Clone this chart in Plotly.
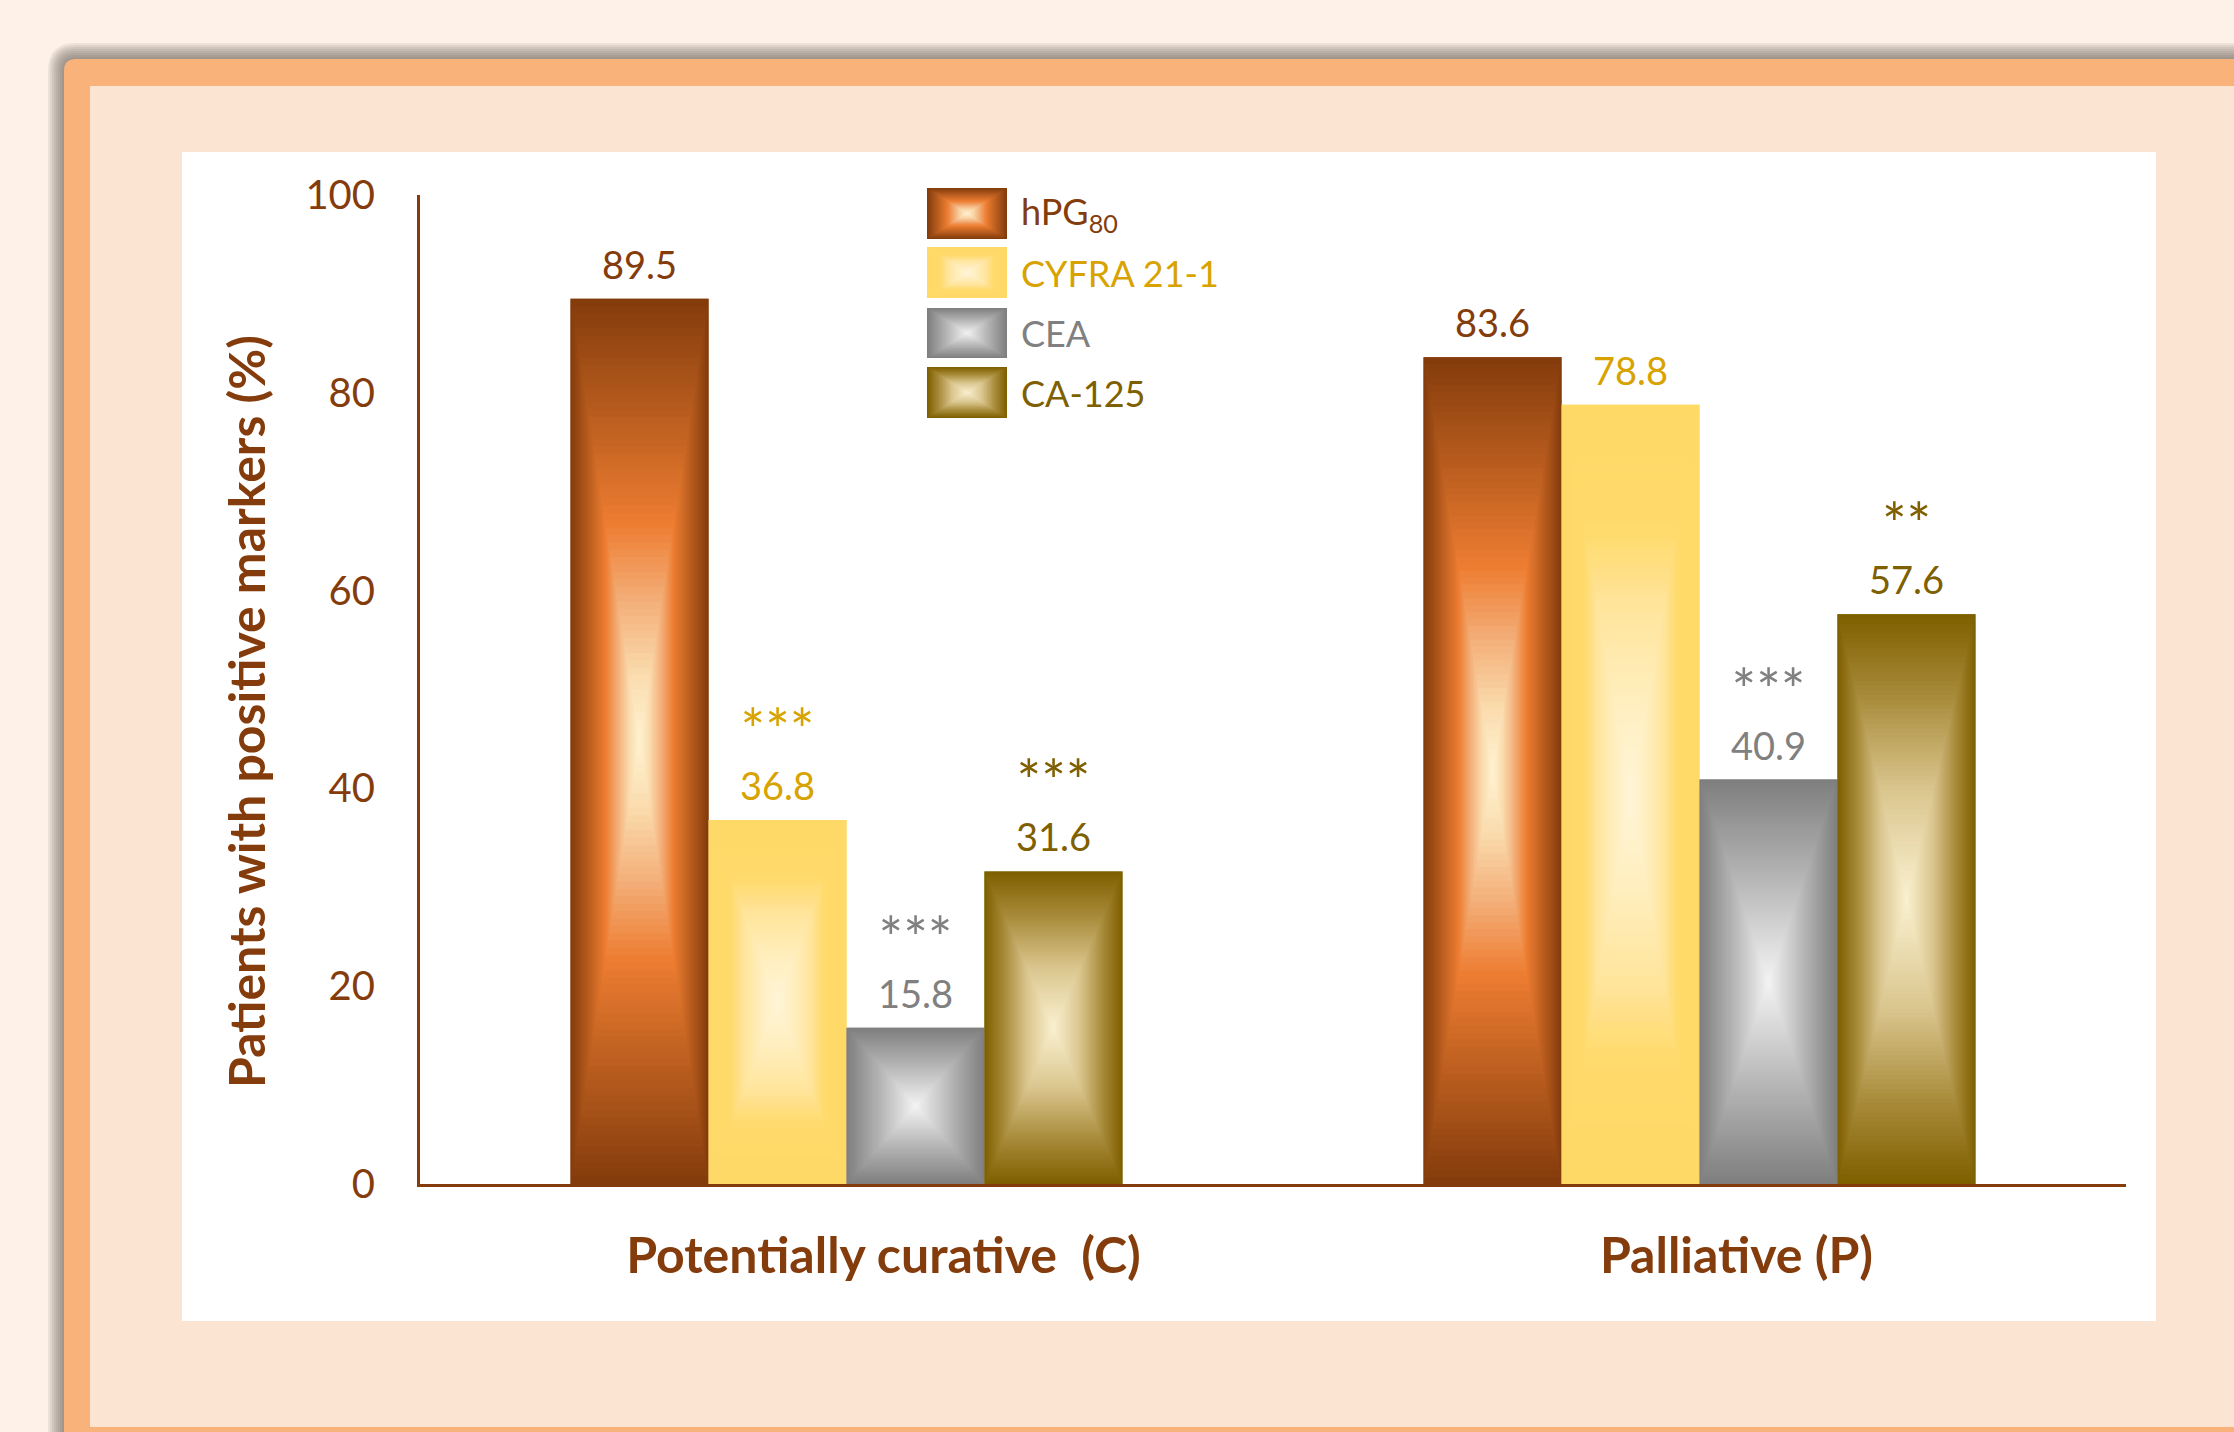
import plotly.graph_objects as go

# ---- data ----
groups = ["Potentially curative\u00a0 (C)", "Palliative (P)"]
marker_names = ["hPG<sub>80</sub>", "CYFRA 21-1", "CEA", "CA-125"]
hpg80 = [89.5, 83.6]
cyfra21 = [36.8, 78.8]
cea = [15.8, 40.9]
ca125 = [31.6, 57.6]
hpg80_sig = ["", ""]
cyfra21_sig = ["***", ""]
cea_sig = ["***", "***"]
ca125_sig = ["***", "**"]
y_ticks = [0, 20, 40, 60, 80, 100]

series_values = [hpg80, cyfra21, cea, ca125]
series_sig = [hpg80_sig, cyfra21_sig, cea_sig, ca125_sig]

# ---- styling ----
FONT = "Lato"
BROWN = "#843C0C"
text_colors = ["#843C0C", "#D8A300", "#808080", "#7F6000"]
# rectangular "from centre" gradients: (position from centre 0 -> edge 1, colour)
gradients = [
    [(0.0, "#FFF3D2"), (0.15, "#FBDDB0"), (0.32, "#F3B07A"), (0.5, "#ED7D31"), (1.0, "#843C0C")],
    [(0.0, "#FFF5D8"), (0.25, "#FFEEBE"), (0.5, "#FFE49A"), (0.68, "#FFDA6C"), (1.0, "#FFD966")],
    [(0.0, "#F4F4F4"), (0.5, "#B8B8B8"), (1.0, "#7F7F7F")],
    [(0.0, "#FBF2D2"), (0.4, "#D9C48C"), (0.72, "#A88B3A"), (1.0, "#7F6000")],
]

FIG_W, FIG_H = 2234, 1432
M_L, M_R, M_T, M_B = 420, 108, 195, 248
PLOT_W = FIG_W - M_L - M_R
PLOT_H = FIG_H - M_T - M_B
BARGAP = 0.353
N_LEVELS = 60


def hex_to_rgb(h):
    h = h.lstrip("#")
    return tuple(int(h[i:i + 2], 16) for i in (0, 2, 4))


def grad_color(stops, s):
    for (p0, c0), (p1, c1) in zip(stops[:-1], stops[1:]):
        if p0 <= s <= p1:
            f = 0 if p1 == p0 else (s - p0) / (p1 - p0)
            a, b = hex_to_rgb(c0), hex_to_rgb(c1)
            return "rgb(%d,%d,%d)" % tuple(round(a[i] + (b[i] - a[i]) * f) for i in range(3))
    return stops[-1][1]


def px_x(x):
    return (x - M_L) / PLOT_W


def px_y(y):
    return (M_T + PLOT_H - y) / PLOT_H


def rounded_path(x0, y0, x1, y1, r):
    # rounded top-left corner only (other corners run off the page)
    pts = [
        ("M", px_x(x0 + r), px_y(y0)),
        ("L", px_x(x1), px_y(y0)),
        ("L", px_x(x1), px_y(y1)),
        ("L", px_x(x0), px_y(y1)),
        ("L", px_x(x0), px_y(y0 + r)),
    ]
    d = " ".join("%s%.6f,%.6f" % p for p in pts)
    d += " Q%.6f,%.6f %.6f,%.6f Z" % (px_x(x0), px_y(y0), px_x(x0 + r), px_y(y0))
    return d


fig = go.Figure()
shapes = []
annotations = []

# ---- page frame ----
for k in range(8, 0, -1):
    shapes.append(dict(type="path", xref="paper", yref="paper", layer="below",
                       path=rounded_path(64 - 2 * k, 59 - 2 * k, 2400, 1600, 12 + 2 * k),
                       fillcolor="rgba(95,85,80,0.10)", line=dict(width=0)))
shapes.append(dict(type="path", xref="paper", yref="paper", layer="below",
                   path=rounded_path(64, 59, 2400, 1600, 12),
                   fillcolor="#F9B37A", line=dict(width=0)))
shapes.append(dict(type="rect", xref="paper", yref="paper", layer="below",
                   x0=px_x(90), x1=px_x(2400), y0=px_y(1427), y1=px_y(86),
                   fillcolor="#FBE4D2", line=dict(width=0)))
shapes.append(dict(type="rect", xref="paper", yref="paper", layer="below",
                   x0=px_x(182), x1=px_x(2156), y0=px_y(1321), y1=px_y(152),
                   fillcolor="white", line=dict(width=0)))

# ---- bars ----
n_series = len(series_values)
bar_w = (1 - BARGAP) / n_series
xs = list(range(len(groups)))

for si, vals in enumerate(series_values):
    fig.add_trace(go.Bar(
        x=xs, y=vals, name=marker_names[si],
        marker=dict(color=gradients[si][-1][1], line=dict(width=0)),
        showlegend=False,
        hovertemplate=marker_names[si] + ": %{y}%<extra></extra>",
    ))
    for gi, v in enumerate(vals):
        xc = gi + (si - (n_series - 1) / 2) * bar_w
        # nested rectangles give the rectangular centre-out shading
        for k in range(N_LEVELS):
            t = 1 - k / N_LEVELS
            shapes.append(dict(
                type="rect", xref="x", yref="y", layer="above",
                x0=xc - t * bar_w / 2, x1=xc + t * bar_w / 2,
                y0=v / 2 - t * v / 2, y1=v / 2 + t * v / 2,
                fillcolor=grad_color(gradients[si], t), line=dict(width=0),
            ))
        # value label, with the significance stars on a line above it
        label = "%.1f" % v
        if series_sig[si][gi]:
            label = '<span style="font-size:58px">%s</span><br>%s' % (series_sig[si][gi], label)
        annotations.append(dict(
            x=xc, y=v, xref="x", yref="y", text=label, showarrow=False,
            yanchor="bottom", yshift=11, borderpad=0,
            font=dict(family=FONT, size=38, color=text_colors[si]),
        ))

# ---- legend ----
leg_x0, leg_x1 = 927, 1007
leg_rows = [(188, 239), (247, 298), (308, 358), (367, 418)]
for si, (ya, yb) in enumerate(leg_rows):
    cx, cy = (leg_x0 + leg_x1) / 2, (ya + yb) / 2
    hw, hh = (leg_x1 - leg_x0) / 2, (yb - ya) / 2
    for k in range(30):
        t = 1 - k / 30
        shapes.append(dict(
            type="rect", xref="paper", yref="paper", layer="above",
            x0=px_x(cx - t * hw), x1=px_x(cx + t * hw),
            y0=px_y(cy + t * hh), y1=px_y(cy - t * hh),
            fillcolor=grad_color(gradients[si], t), line=dict(width=0),
        ))
    annotations.append(dict(
        x=px_x(1019), y=px_y(cy), xref="paper", yref="paper",
        text=marker_names[si], showarrow=False, xanchor="left", yanchor="middle",
        font=dict(family=FONT, size=36, color=text_colors[si]),
    ))

# ---- y axis title ----
annotations.append(dict(
    x=px_x(246), y=px_y(712), xref="paper", yref="paper",
    text="<b>Patients with positive markers (%)</b>", textangle=-90,
    showarrow=False, xanchor="center", yanchor="middle",
    font=dict(family=FONT, size=50, color=BROWN),
))

fig.update_layout(
    width=FIG_W, height=FIG_H,
    margin=dict(l=M_L, r=M_R, t=M_T, b=M_B, pad=0),
    paper_bgcolor="#FDF1E8", plot_bgcolor="rgba(0,0,0,0)",
    barmode="group", bargap=BARGAP, bargroupgap=0,
    shapes=shapes, annotations=annotations,
    font=dict(family=FONT, color=BROWN),
    showlegend=False,
)
fig.update_xaxes(
    range=[-0.5, 1.5], tickvals=xs, ticktext=["<b>%s</b>" % g for g in groups],
    tickfont=dict(family=FONT, size=50, color=BROWN),
    showline=True, linecolor=BROWN, linewidth=3, showgrid=False, zeroline=False,
    ticks="", ticklabelstandoff=26, ticklabelshift=37,
)
fig.update_yaxes(
    range=[0, 100], tickvals=y_ticks,
    tickfont=dict(family=FONT, size=40, color=BROWN),
    showline=True, linecolor=BROWN, linewidth=3, showgrid=False, zeroline=False,
    ticks="", ticklabelstandoff=34,
)

fig.write_html("out.html")
